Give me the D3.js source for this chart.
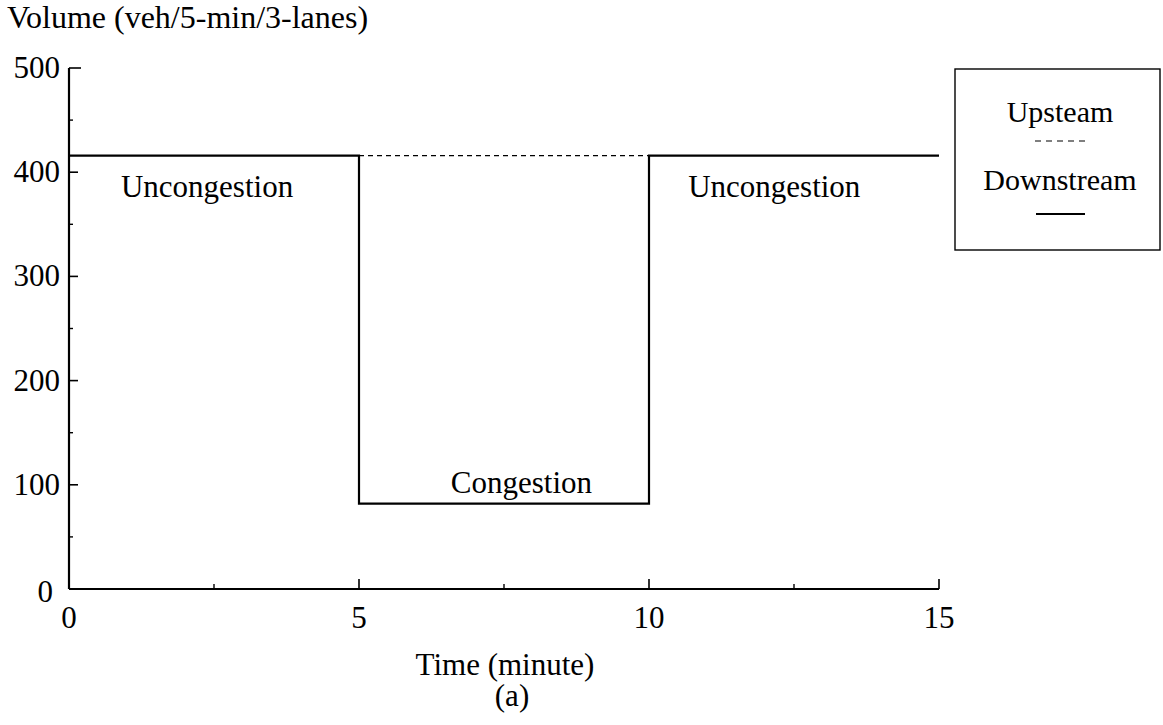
<!DOCTYPE html>
<html>
<head>
<meta charset="utf-8">
<script src="https://cdn.jsdelivr.net/npm/d3@7"></script>
<style>
  body { margin: 0; background: #fff; }
  svg { font-family: "Liberation Serif", "Times New Roman", serif; }
  text { fill: #000; }
</style>
</head>
<body>
<svg id="chart" width="1163" height="725"></svg>
<script>
// data
var times = [0, 5, 10, 15];
var downstreamTimes = [0, 5, 5, 10, 10, 15];
var downstreamVolumes = [416, 416, 82, 82, 416, 416];
var upstreamTimes = [5, 10];
var upstreamVolumes = [416, 416];
var xMajorTicks = [5, 10, 15];
var xMinorTicks = [2.5, 7.5, 12.5];
var yMajorTicks = [0, 100, 200, 300, 400, 500];
var yMinorTicks = [50, 150, 250, 350, 450];
var regionLabels = ["Uncongestion", "Congestion", "Uncongestion"];
var regionLabelTimes = [2.38, 7.8, 12.16];
var regionLabelVolumes = [376, 92, 376];
var legendLabels = ["Upsteam", "Downstream"];

var svg = d3.select("#chart");

// plot area in pixels (avoid "top", it is window.top)
var plotLeft = 69, plotRight = 939, plotTop = 68, plotBottom = 589;

var x = d3.scaleLinear().domain([0, 15]).range([plotLeft, plotRight]);
var y = d3.scaleLinear().domain([0, 500]).range([plotBottom, plotTop]);

// axes lines
svg.append("line")
    .attr("x1", plotLeft).attr("x2", plotLeft)
    .attr("y1", y(500)).attr("y2", y(0))
    .attr("stroke", "#000").attr("stroke-width", 2.2);
svg.append("line")
    .attr("x1", plotLeft).attr("x2", plotRight)
    .attr("y1", y(0)).attr("y2", y(0))
    .attr("stroke", "#000").attr("stroke-width", 2.2);

// y ticks (inward)
svg.append("g").selectAll("line")
    .data(yMajorTicks.filter(function(d) { return d > 0; }))
    .enter().append("line")
      .attr("x1", plotLeft)
      .attr("x2", function(d) { return d == 500 ? plotLeft + 12 : plotLeft + 9; })
      .attr("y1", function(d) { return y(d); })
      .attr("y2", function(d) { return y(d); })
      .attr("stroke", "#000").attr("stroke-width", 1.6);
svg.append("g").selectAll("line")
    .data(yMinorTicks)
    .enter().append("line")
      .attr("x1", plotLeft).attr("x2", plotLeft + 4)
      .attr("y1", function(d) { return y(d); })
      .attr("y2", function(d) { return y(d); })
      .attr("stroke", "#000").attr("stroke-width", 1.4);

svg.append("g").selectAll("text")
    .data(yMajorTicks)
    .enter().append("text")
      .attr("x", function(d) { return d == 0 ? 53 : 60; })
      .attr("y", function(d) { return y(d) + (d == 0 ? 13 : 10); })
      .attr("text-anchor", "end")
      .attr("font-size", 31)
      .text(function(d) { return d; });

// x ticks (inward)
svg.append("g").selectAll("line")
    .data(xMajorTicks)
    .enter().append("line")
      .attr("x1", function(d) { return x(d); })
      .attr("x2", function(d) { return x(d); })
      .attr("y1", plotBottom).attr("y2", plotBottom - 10)
      .attr("stroke", "#000").attr("stroke-width", 1.6);
svg.append("g").selectAll("line")
    .data(xMinorTicks)
    .enter().append("line")
      .attr("x1", function(d) { return x(d); })
      .attr("x2", function(d) { return x(d); })
      .attr("y1", plotBottom).attr("y2", plotBottom - 5)
      .attr("stroke", "#000").attr("stroke-width", 1.4);

svg.append("g").selectAll("text")
    .data(times)
    .enter().append("text")
      .attr("x", function(d) { return x(d); })
      .attr("y", 628)
      .attr("text-anchor", "middle")
      .attr("font-size", 31)
      .text(function(d) { return d; });

// series
var line = d3.line()
    .x(function(d) { return x(d[0]); })
    .y(function(d) { return y(d[1]); });

svg.append("path")
    .datum(d3.zip(upstreamTimes, upstreamVolumes))
    .attr("d", line)
    .attr("fill", "none")
    .attr("stroke", "#000")
    .attr("stroke-width", 1.2)
    .attr("stroke-dasharray", "5,4");

svg.append("path")
    .datum(d3.zip(downstreamTimes, downstreamVolumes))
    .attr("d", line)
    .attr("fill", "none")
    .attr("stroke", "#000")
    .attr("stroke-width", 2.2);

// region labels
svg.append("g").selectAll("text")
    .data(regionLabels)
    .enter().append("text")
      .attr("x", function(d, i) { return x(regionLabelTimes[i]); })
      .attr("y", function(d, i) { return y(regionLabelVolumes[i]); })
      .attr("text-anchor", "middle")
      .attr("font-size", 31)
      .text(function(d) { return d; });

// titles
svg.append("text")
    .attr("x", 7).attr("y", 28)
    .attr("font-size", 32)
    .text("Volume (veh/5-min/3-lanes)");
svg.append("text")
    .attr("x", 505).attr("y", 675)
    .attr("text-anchor", "middle")
    .attr("font-size", 31)
    .text("Time (minute)");
svg.append("text")
    .attr("x", 512).attr("y", 706)
    .attr("text-anchor", "middle")
    .attr("font-size", 31)
    .text("(a)");

// legend
var legend = svg.append("g");
legend.append("rect")
    .attr("x", 955).attr("y", 69)
    .attr("width", 205).attr("height", 181)
    .attr("fill", "none")
    .attr("stroke", "#000")
    .attr("stroke-width", 1.4);
legend.selectAll("text")
    .data(legendLabels)
    .enter().append("text")
      .attr("x", 1060)
      .attr("y", function(d, i) { return i == 0 ? 122 : 190; })
      .attr("text-anchor", "middle")
      .attr("font-size", 30)
      .text(function(d) { return d; });
legend.append("line")
    .attr("x1", 1035).attr("x2", 1085)
    .attr("y1", 141).attr("y2", 141)
    .attr("stroke", "#000").attr("stroke-width", 1.2)
    .attr("stroke-dasharray", "6,5");
legend.append("line")
    .attr("x1", 1036).attr("x2", 1085)
    .attr("y1", 214).attr("y2", 214)
    .attr("stroke", "#000").attr("stroke-width", 2);
</script>
</body>
</html>
